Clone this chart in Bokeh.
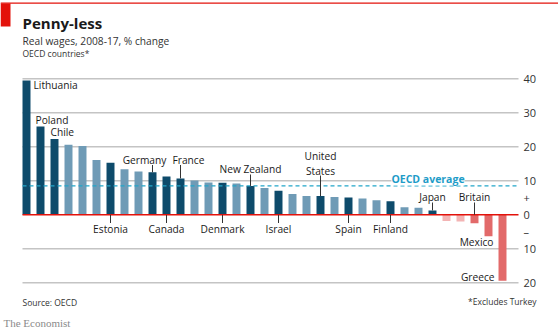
from bokeh.plotting import figure
from bokeh.models import Range1d, ColumnDataSource, Label
from bokeh.core.properties import value
from bokeh.embed import file_html
from bokeh.resources import INLINE

# ---------------- data ----------------
countries = ["Lithuania", "Poland", "Chile", "", "", "", "Estonia", "", "", "Germany",
             "Canada", "France", "", "", "Denmark", "", "New Zealand", "", "Israel", "",
             "", "United States", "", "Spain", "", "", "Finland", "", "", "Japan",
             "", "", "Britain", "Mexico", "Greece"]
wages = [39.5, 26.0, 22.3, 20.6, 20.2, 16.1, 15.3, 13.4, 12.7, 12.5,
         11.3, 10.7, 10.1, 9.5, 9.4, 9.2, 8.5, 7.9, 7.1, 6.1,
         5.5, 5.5, 5.2, 5.1, 4.8, 4.3, 4.0, 2.2, 2.1, 1.3,
         -1.8, -2.0, -2.5, -6.3, -19.4]
oecd_average = 8.5
tick_values = [40, 30, 20, 10, 5, 0, -5, -10, -20]
tick_labels = ["40", "30", "20", "10", "+", "0", "\u2013", "10", "20"]
grid_values = [40, 30, 20, 10, -10, -20]

# ---------------- layout helpers (pixel -> data) ----------------
W, H = 558, 331
X0PX, STEP = 26.0, 14.0        # centre of first bar, bar spacing (px)
ZEROPX, UNIT = 214.3, 3.4      # zero line, px per percentage point

def X(px):
    return (px - X0PX) / STEP

def Y(py):
    return (ZEROPX - py) / UNIT

DARK = "#0e4b6b"
LIGHT = "#6f9bb6"
RED = "#e26a6a"
LIGHTRED = "#f3b4b4"
TEXT = "#1a1a1a"
FONT = "Open Sans"

p = figure(width=W, height=H, x_range=Range1d(X(0), X(W)), y_range=Range1d(Y(H), Y(0)),
           min_border=0, toolbar_location=None, output_backend="svg",
           x_axis_location=None, y_axis_location=None)
p.grid.visible = False
p.outline_line_color = None
p.background_fill_color = "white"

idx = list(range(len(wages)))
colors = []
for name, v in zip(countries, wages):
    if v >= 0:
        colors.append(DARK if name else LIGHT)
    else:
        colors.append(RED if name else LIGHTRED)

xl, xr = X(22), X(518)

# gridlines
p.segment(x0=[xl] * len(grid_values), x1=[xr] * len(grid_values), y0=grid_values, y1=grid_values,
          line_color="#c4c4c4", line_width=1.5)

# bars
src = ColumnDataSource(dict(x=idx, top=wages, color=colors))
p.vbar(x="x", top="top", bottom=0, width=0.57, fill_color="color", line_color=None, source=src)

# zero line
p.segment(x0=[xl], x1=[xr], y0=[0], y1=[0], line_color="#e3120b", line_width=1.5)

# OECD average
p.segment(x0=[xl], x1=[xr], y0=[oecd_average], y1=[oecd_average], line_color="#22a6c9",
          line_width=1.2, line_dash="4 3")
p.add_layout(Label(x=X(427.5), y=Y(178), text="OECD average", text_align="center",
                   text_baseline="middle", text_font=FONT, text_font_size="10.5px",
                   text_color="#1e9cc8", background_fill_color="white",
                   text_font_style="bold"))

# right tick labels
p.text(x=[X(523)] * len(tick_values), y=tick_values, text=tick_labels,
       text_align="left", text_baseline="middle", text_font=value(FONT),
       text_font_size="11px", text_color="#333333")

# country labels
# name: (dx px, label y px, align, leader start y px or None)
above = {
    "Lithuania": (7, 84, "left", None),
    "Poland": (-5, 119, "left", None),
    "Chile": (-4, 131.7, "left", None),
    "Germany": (-8, 159, "center", 164.5),
    "France": (8, 159, "center", 164.5),
    "New Zealand": (0, 168.7, "center", 174),
    "United States": (0, 163.2, "center", 175),
    "Japan": (0, 196.7, "center", 202),
    "Britain": (0, 196.7, "center", 202),
}
below = ["Estonia", "Canada", "Denmark", "Israel", "Spain", "Finland"]
right_al = {"Mexico": (5, 241.7), "Greece": (-8, 276)}

lx, ly, lt, la = [], [], [], []
seg_x, seg_y0, seg_y1 = [], [], []
for i, (name, v) in enumerate(zip(countries, wages)):
    if not name:
        continue
    if name in above:
        dx, py, al, lead = above[name]
        lx.append(i + dx / STEP); ly.append(Y(py)); la.append(al)
        lt.append(name.replace(" ", "\n") if name == "United States" else name)
        if lead is not None:
            seg_x.append(i); seg_y0.append(Y(lead)); seg_y1.append(max(v, 0))
    elif name in below:
        lx.append(i); ly.append(Y(228.3)); la.append("center"); lt.append(name)
        seg_x.append(i); seg_y0.append(0); seg_y1.append(Y(222.5))
    elif name in right_al:
        dx, py = right_al[name]
        lx.append(i + dx / STEP); ly.append(Y(py)); la.append("right"); lt.append(name)

p.segment(x0=seg_x, x1=seg_x, y0=seg_y0, y1=seg_y1, line_color="#333333", line_width=1)
p.text(x=lx, y=ly, text=lt, text_align=la, text_baseline="middle",
       text_font=value(FONT), text_font_size="10.2px", text_color=TEXT,
       text_line_height=1.1)

# header decoration
p.quad(left=[X(0)], right=[X(W)], top=[Y(2)], bottom=[Y(3.2)], fill_color="#e3120b",
       line_color=None)
p.quad(left=[X(0)], right=[X(10)], top=[Y(3)], bottom=[Y(26)], fill_color="#e3120b",
       line_color=None)

def lab(px, py, txt, size, style="normal", color=TEXT, align="left", font=FONT):
    p.add_layout(Label(x=X(px), y=Y(py), text=txt, text_align=align, text_baseline="middle",
                       text_font=font, text_font_size=size, text_font_style=style,
                       text_color=color))

lab(22, 22, "Penny-less", "15px", "bold")
lab(22, 40, "Real wages, 2008-17, % change", "10.2px", color="#333333")
lab(22, 53, "OECD countries*", "8.5px", color="#333333")
lab(22, 302, "Source: OECD", "8.5px", color="#333333")
lab(536, 301, "*Excludes Turkey", "8.5px", color="#333333", align="right")
lab(3, 322, "The Economist", "11px", color="#8a8a8a", font="Liberation Serif")

open("out.html", "w").write(file_html(p, INLINE))
